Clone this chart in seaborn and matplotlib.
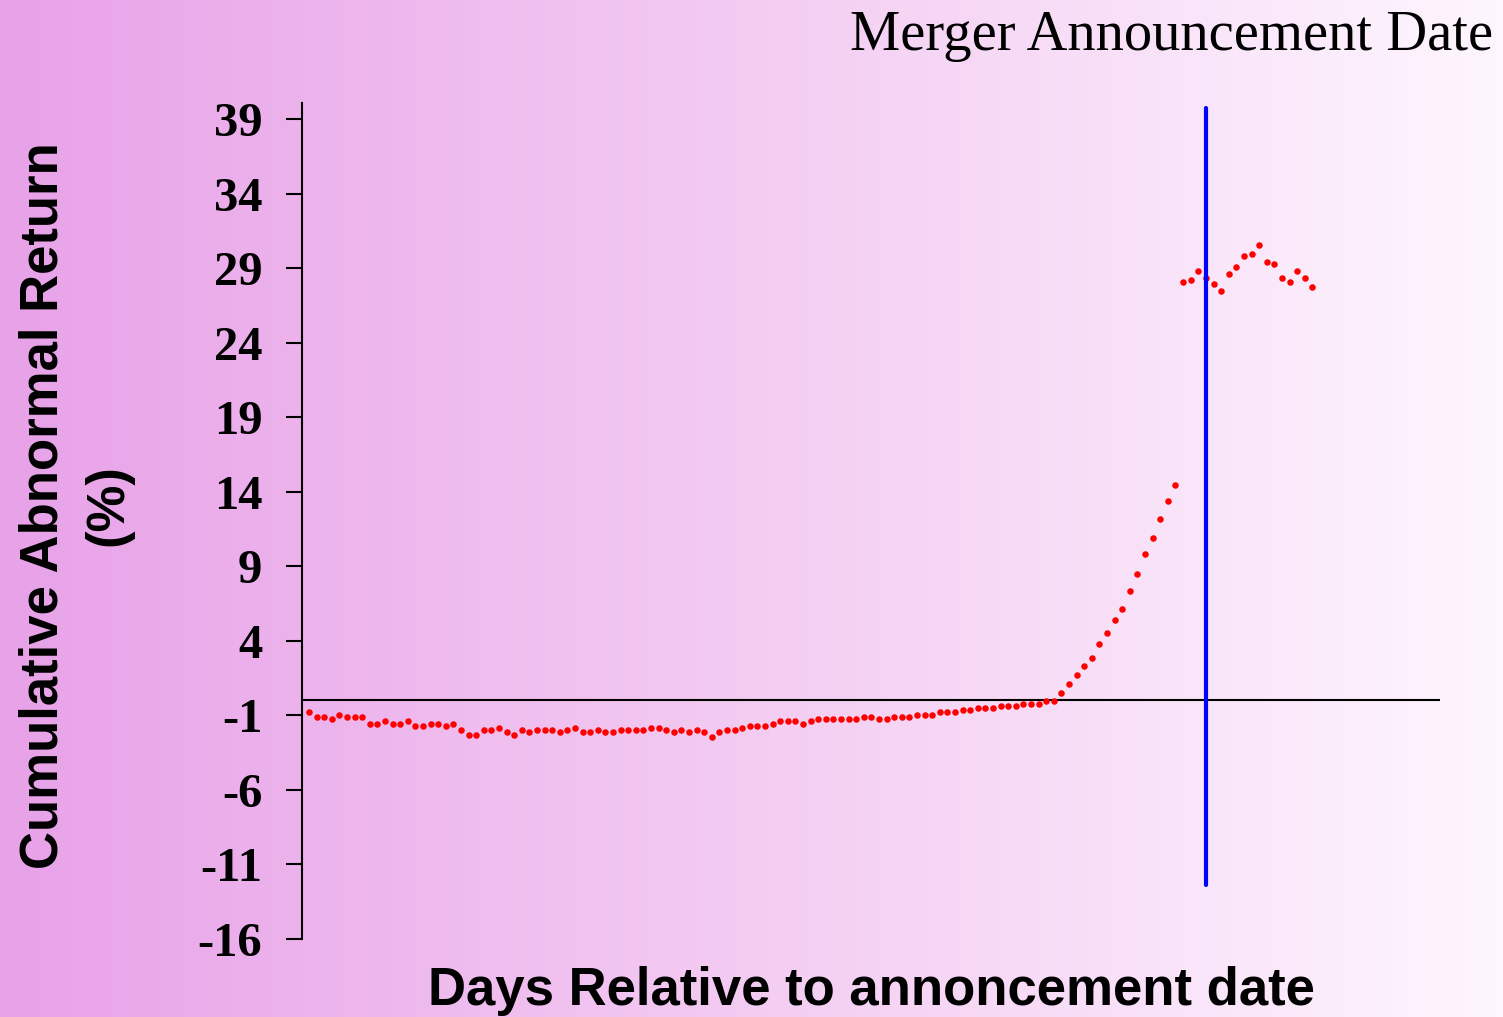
import numpy as np
import pandas as pd
import seaborn as sns
import matplotlib
matplotlib.use("Agg")
from matplotlib import pyplot as plt
from matplotlib.colors import LinearSegmentedColormap

# days relative to the announcement (day 0 = announcement)
days = list(range(-118, 15))

# cumulative abnormal return (%)
car = [
    -0.8, -1.1, -1.1, -1.25, -0.95, -1.1, -1.1, -1.1, -1.55, -1.55, -1.4, -1.55,
    -1.55, -1.4, -1.7, -1.7, -1.55, -1.55, -1.7, -1.55, -2.0, -2.3, -2.3, -2.0,
    -2.0, -1.82, -2.13, -2.29, -2.0, -2.13, -2.0, -2.0, -2.0, -2.13, -2.0, -1.82,
    -2.13, -2.13, -2.0, -2.13, -2.13, -2.0, -2.0, -2.0, -2.0, -1.82, -1.82, -2.0,
    -2.13,
    -1.96, -2.13, -1.96, -2.13, -2.43, -2.13, -1.98, -1.98, -1.84, -1.69, -1.69,
    -1.69, -1.56, -1.37, -1.37, -1.37, -1.56, -1.37, -1.24, -1.24, -1.24, -1.24,
    -1.24, -1.24,
    -1.09, -1.09, -1.24, -1.24, -1.09, -1.09, -1.09, -0.95, -0.95, -0.95, -0.79,
    -0.79, -0.79, -0.66, -0.66, -0.5, -0.5, -0.5, -0.35, -0.35, -0.35, -0.21,
    -0.21, -0.21, -0.05, -0.05,
    0.52, 1.11, 1.71, 2.29, 2.87, 3.77, 4.53, 5.40, 6.16, 7.32, 8.50, 9.83,
    10.88, 12.19, 13.38, 14.43,
    28.05, 28.2, 28.79, 28.34, 27.91, 27.45, 28.63, 29.1, 29.83, 29.97, 30.57,
    29.39, 29.26, 28.34, 28.05, 28.79, 28.34, 27.71,
]

yticks = list(range(-16, 40, 5))
announce_day = 0

df = pd.DataFrame({'day': days, 'car': car})

sns.set_style('white')
plt.rcParams['font.family'] = ['Liberation Serif', 'DejaVu Serif']
plt.rcParams['text.color'] = 'black'
plt.rcParams['axes.labelcolor'] = 'black'
plt.rcParams['ytick.color'] = 'black'

fig = plt.figure(figsize=(15.03, 10.17), dpi=100)

# gradient background, violet on the left fading to white
bg = fig.add_axes([0, 0, 1, 1], zorder=-1)
cmap = LinearSegmentedColormap.from_list('bg', ['#e8a2e8', '#f3ccf2', '#fef6fe'])
bg.imshow(np.linspace(0, 1, 256).reshape(1, -1), aspect='auto', cmap=cmap,
          extent=[0, 1, 0, 1])
bg.set_axis_off()

ax = fig.add_axes([0.2009, 0.0767, 0.7572, 0.8220])
ax.patch.set_alpha(0)

sns.scatterplot(data=df, x='day', y='car', color='#ff0000', marker='o', s=22,
                linewidth=0, ax=ax, zorder=3)

ax.axhline(0, color='black', lw=1.5, zorder=2)
ax.axvline(announce_day, ymin=0.0646, ymax=0.994, color='#0000ff', lw=3, zorder=4)

ax.set_xlim(-118.92, 30.8)
ax.set_ylim(-16, 40.07)
ax.set_xticks([])
ax.set_yticks(yticks)
ax.set_yticklabels([str(t) for t in yticks], fontsize=35, fontweight='bold',
                   family='Liberation Serif', color='black')
ax.tick_params(axis='y', direction='out', length=11.5, width=1.5, color='black',
               pad=17, left=True)

for s in ['top', 'right', 'bottom']:
    ax.spines[s].set_visible(False)
ax.spines['left'].set_color('black')
ax.spines['left'].set_linewidth(1.5)

ax.set_ylabel('Cumulative Abnormal Return\n(%)', fontsize=38, fontweight='bold',
              family='Liberation Sans', multialignment='center', linespacing=1.38,
              color='black')
ax.yaxis.set_label_coords(-0.1485, 0.519)
ax.set_xlabel('Days Relative to annoncement date', fontsize=38,
              fontweight='bold', family='Liberation Sans', color='black')
ax.xaxis.set_label_coords(0.5, -0.032)

fig.text(1493 / 1503, 1 - 50 / 1017, 'Merger Announcement Date', ha='right',
         va='baseline', fontsize=40.8, family='Liberation Serif', color='black')

fig.savefig('out.png', dpi=100)
